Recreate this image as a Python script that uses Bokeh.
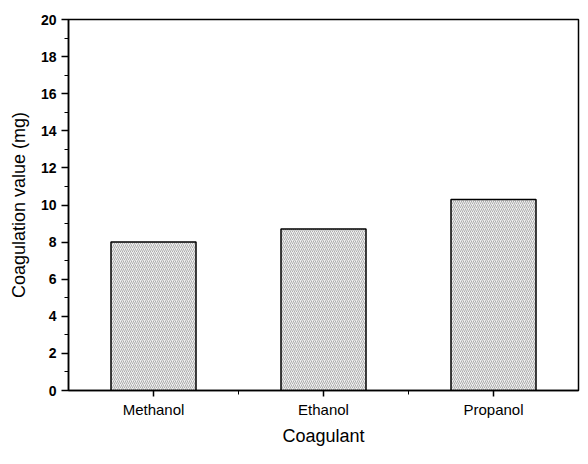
from bokeh.plotting import figure
from bokeh.models import Range1d, FixedTicker, ColumnDataSource
from bokeh.embed import file_html
from bokeh.resources import INLINE

categories = ["Methanol", "Ethanol", "Propanol"]
values = [8.0, 8.7, 10.3]
y_ticks = [0, 2, 4, 6, 8, 10, 12, 14, 16, 18, 20]
y_minor = [1, 3, 5, 7, 9, 11, 13, 15, 17, 19]

xs = list(range(1, len(categories) + 1))
src = ColumnDataSource(dict(x=xs, top=values, name=categories))

FONT = "Liberation Sans"

p = figure(width=580, height=448, output_backend="svg", toolbar_location=None,
           x_range=Range1d(0.5, len(categories) + 0.5), y_range=Range1d(0, 20),
           min_border_left=68, min_border_right=2, min_border_top=19, min_border_bottom=0)

p.vbar(x="x", top="top", width=0.5, source=src, fill_color="#f0f0f0",
       line_color="black", line_width=1.5, hatch_pattern="/", hatch_scale=4,
       hatch_weight=0.6, hatch_color="#808080")

p.xgrid.visible = False
p.ygrid.visible = False
p.outline_line_color = "black"
p.outline_line_width = 1.5
p.background_fill_color = "white"
p.border_fill_color = "white"

xa = p.xaxis[0]
xa.ticker = FixedTicker(ticks=xs, minor_ticks=[i + 0.5 for i in xs[:-1]])
xa.major_label_overrides = {x: c for x, c in zip(xs, categories)}
xa.axis_label = "Coagulant"
xa.axis_line_width = 1.5
xa.major_tick_in = 0
xa.major_tick_out = 6
xa.minor_tick_in = 0
xa.minor_tick_out = 4
xa.major_tick_line_width = 1.5
xa.major_label_text_font = FONT
xa.major_label_text_font_size = "15px"
xa.major_label_text_color = "black"
xa.major_label_standoff = 4
xa.axis_label_text_font = FONT
xa.axis_label_text_font_size = "18px"
xa.axis_label_text_font_style = "normal"
xa.axis_label_text_color = "black"
xa.axis_label_standoff = 5

ya = p.yaxis[0]
ya.ticker = FixedTicker(ticks=y_ticks, minor_ticks=y_minor)
ya.axis_label = "Coagulation value (mg)"
ya.axis_line_width = 1.5
ya.major_tick_in = 0
ya.major_tick_out = 7
ya.minor_tick_in = 0
ya.minor_tick_out = 4
ya.major_tick_line_width = 1.5
ya.major_label_text_font = FONT
ya.major_label_text_font_size = "14px"
ya.major_label_text_font_style = "bold"
ya.major_label_text_color = "black"
ya.major_label_standoff = 5
ya.axis_label_text_font = FONT
ya.axis_label_text_font_size = "18px"
ya.axis_label_text_font_style = "normal"
ya.axis_label_text_color = "black"
ya.axis_label_standoff = 9

open("out.html", "w").write(file_html(p, INLINE))
